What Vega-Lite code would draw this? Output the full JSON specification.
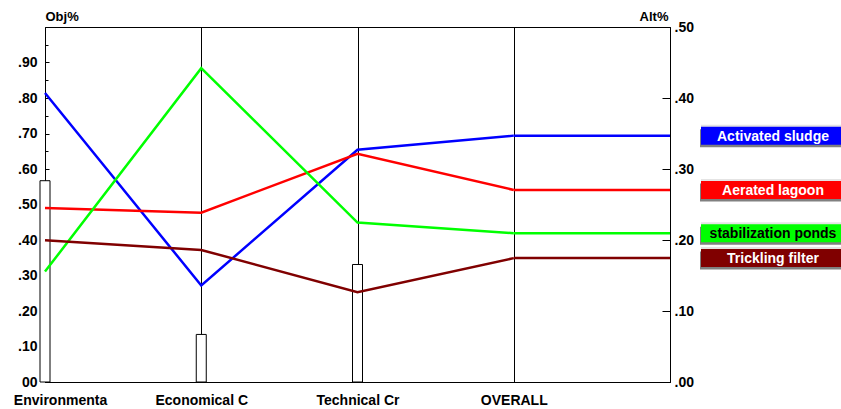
{
  "$schema": "https://vega.github.io/schema/vega-lite/v6.json",
  "width": 625,
  "height": 355,
  "autosize": {"type": "none"},
  "padding": {"left": 45, "top": 27, "right": 171, "bottom": 27},
  "background": "white",
  "config": {
    "font": "Liberation Sans",
    "view": {"stroke": "black", "strokeWidth": 1},
    "axis": {
      "labelFont": "Liberation Sans",
      "labelFontWeight": "bold",
      "labelColor": "black",
      "titleFont": "Liberation Sans",
      "titleColor": "black",
      "domainColor": "black",
      "tickColor": "black",
      "labelOverlap": false,
      "labelFlush": false
    }
  },
  "datasets": {
    "weights": [
      {"criterion": "Environmenta", "weight": 0.567},
      {"criterion": "Economical C", "weight": 0.134},
      {"criterion": "Technical Cr", "weight": 0.331}
    ],
    "lines": [
      {"alternative": "Activated sludge", "criterion": "Environmenta", "priority": 0.407},
      {"alternative": "Activated sludge", "criterion": "Economical C", "priority": 0.136},
      {"alternative": "Activated sludge", "criterion": "Technical Cr", "priority": 0.327},
      {"alternative": "Activated sludge", "criterion": "OVERALL", "priority": 0.347},
      {"alternative": "Aerated lagoon", "criterion": "Environmenta", "priority": 0.245},
      {"alternative": "Aerated lagoon", "criterion": "Economical C", "priority": 0.2385},
      {"alternative": "Aerated lagoon", "criterion": "Technical Cr", "priority": 0.3215},
      {"alternative": "Aerated lagoon", "criterion": "OVERALL", "priority": 0.2705},
      {"alternative": "stabilization ponds", "criterion": "Environmenta", "priority": 0.1555},
      {"alternative": "stabilization ponds", "criterion": "Economical C", "priority": 0.442},
      {"alternative": "stabilization ponds", "criterion": "Technical Cr", "priority": 0.2245},
      {"alternative": "stabilization ponds", "criterion": "OVERALL", "priority": 0.2095},
      {"alternative": "Trickling filter", "criterion": "Environmenta", "priority": 0.1995},
      {"alternative": "Trickling filter", "criterion": "Economical C", "priority": 0.186},
      {"alternative": "Trickling filter", "criterion": "Technical Cr", "priority": 0.1265},
      {"alternative": "Trickling filter", "criterion": "OVERALL", "priority": 0.1745}
    ],
    "overall": [
      {"alternative": "Activated sludge", "overall": 0.347},
      {"alternative": "Aerated lagoon", "overall": 0.2705},
      {"alternative": "stabilization ponds", "overall": 0.2095},
      {"alternative": "Trickling filter", "overall": 0.1745}
    ]
  },
  "layer": [
    {
      "data": {"name": "weights"},
      "mark": {"type": "bar", "width": 10, "fill": "white", "stroke": "black", "strokeWidth": 1},
      "encoding": {
        "x": {
          "field": "criterion", "type": "ordinal",
          "scale": {"type": "point", "domain": ["Environmenta", "Economical C", "Technical Cr", "OVERALL", "end"], "padding": 0},
          "axis": {
            "values": ["Environmenta", "Economical C", "Technical Cr", "OVERALL"],
            "title": null,
            "ticks": false,
            "grid": true,
            "gridColor": "black",
            "gridOpacity": 1,
            "gridWidth": 1,
            "domain": true,
            "labelFontSize": 14,
            "labelPadding": 11,
            "labelAngle": 0,
            "labelBound": false,
            "labelOffset": {"condition": {"test": "datum.value === 'Environmenta'", "value": 15}, "value": 0}
          }
        },
        "y": {
          "field": "weight", "type": "quantitative",
          "scale": {"domain": [0, 1], "nice": false, "zero": true},
          "axis": {
            "orient": "left",
            "values": [0, 0.05, 0.1, 0.15, 0.2, 0.25, 0.3, 0.35, 0.4, 0.45, 0.5, 0.55, 0.6, 0.65, 0.7, 0.75, 0.8, 0.85, 0.9, 0.95],
            "labelExpr": "round(datum.value*100) % 10 == 0 ? (datum.value == 0 ? '00' : replace(format(datum.value, '.2f'), '0.', '.')) : ''",
            "tickSize": {"condition": {"test": "round(datum.value*100) % 10 == 0", "value": -4}, "value": -3},
            "labelPadding": 12,
            "labelFontSize": 14,
            "grid": false,
            "domain": true,
            "title": "Obj%",
            "titleAngle": 0,
            "titleAlign": "left",
            "titleBaseline": "bottom",
            "titleX": 0,
            "titleY": -4,
            "titleFontSize": 13,
            "titleFontWeight": "bold"
          }
        }
      }
    },
    {
      "layer": [
        {
          "data": {"name": "lines"},
          "mark": {"type": "line", "strokeWidth": 2.5},
          "encoding": {
            "x": {"field": "criterion", "type": "ordinal"},
            "y": {
              "field": "priority", "type": "quantitative",
              "scale": {"domain": [0, 0.5], "nice": false, "zero": true},
              "axis": {
                "orient": "right",
                "values": [0, 0.05, 0.1, 0.15, 0.2, 0.25, 0.3, 0.35, 0.4, 0.45, 0.5],
                "labelExpr": "round(datum.value*100) % 10 == 0 ? replace(format(datum.value, '.2f'), '0.', '.') : ''",
                "tickSize": {"condition": {"test": "round(datum.value*100) % 10 == 0", "value": -8}, "value": -3},
                "labelPadding": 12,
                "labelFontSize": 14,
                "grid": false,
                "domain": true,
                "title": "Alt%",
                "titleAngle": 0,
                "titleAlign": "right",
                "titleBaseline": "bottom",
                "titleX": -2,
                "titleY": -4,
                "titleFontSize": 13,
                "titleFontWeight": "bold"
              }
            },
            "color": {
              "field": "alternative", "type": "nominal",
              "scale": {"domain": ["Activated sludge", "Aerated lagoon", "stabilization ponds", "Trickling filter"], "range": ["#0000ff", "#ff0000", "#00ff00", "#800000"]},
              "legend": null
            }
          }
        },
        {
          "data": {"name": "overall"},
          "mark": {"type": "rule", "strokeWidth": 2.5},
          "encoding": {
            "x": {"datum": "OVERALL", "type": "ordinal"},
            "x2": {"datum": "end"},
            "y": {"field": "overall", "type": "quantitative"},
            "color": {"field": "alternative", "type": "nominal", "legend": null}
          }
        },
        {
          "data": {"name": "overall"},
          "mark": {"type": "tick", "orient": "horizontal", "size": 180, "thickness": 18, "xOffset": 121, "yOffset": -2, "color": "#e4e4e4", "opacity": 1},
          "encoding": {
            "x": {"datum": "end", "type": "ordinal"},
            "y": {"field": "overall", "type": "quantitative"}
          }
        },
        {
          "data": {"name": "overall"},
          "mark": {"type": "tick", "orient": "horizontal", "size": 180, "thickness": 18, "xOffset": 120, "yOffset": 2.5, "color": "#808080", "opacity": 1},
          "encoding": {
            "x": {"datum": "end", "type": "ordinal"},
            "y": {"field": "overall", "type": "quantitative"}
          }
        },
        {
          "data": {"name": "overall"},
          "mark": {"type": "tick", "orient": "horizontal", "size": 180, "thickness": 18, "xOffset": 121, "opacity": 1},
          "encoding": {
            "x": {"datum": "end", "type": "ordinal"},
            "y": {"field": "overall", "type": "quantitative"},
            "color": {"field": "alternative", "type": "nominal", "legend": null}
          }
        },
        {
          "data": {"name": "overall"},
          "mark": {"type": "text", "font": "Liberation Sans", "fontSize": 14, "fontWeight": "bold", "align": "center", "baseline": "middle", "dx": 103, "dy": 1},
          "encoding": {
            "x": {"datum": "end", "type": "ordinal"},
            "y": {"field": "overall", "type": "quantitative"},
            "text": {"field": "alternative"},
            "color": {"condition": {"test": "datum.alternative === 'stabilization ponds'", "value": "black"}, "value": "white"}
          }
        }
      ]
    }
  ],
  "resolve": {"scale": {"y": "independent"}, "axis": {"y": "independent"}}
}
